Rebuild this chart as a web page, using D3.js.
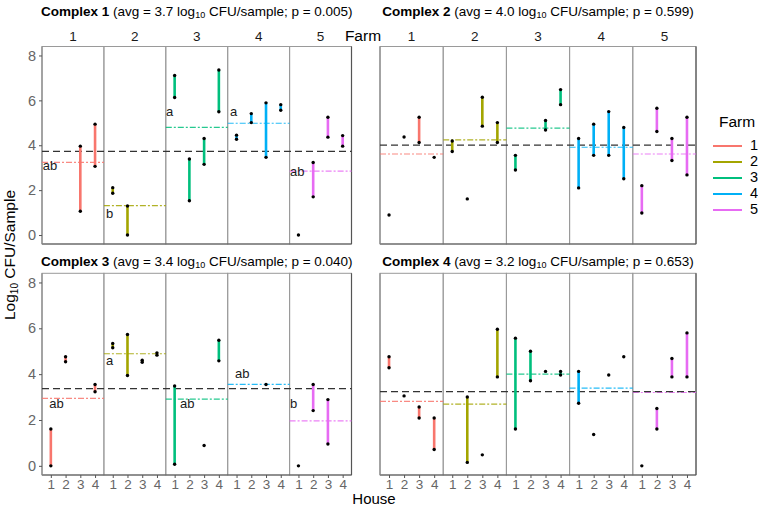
<!DOCTYPE html>
<html><head><meta charset="utf-8">
<script src="https://cdn.jsdelivr.net/npm/d3@7"></script>
<style>body{margin:0;background:#fff}svg{display:block;font-family:"Liberation Sans",Arial,sans-serif}</style>
</head><body><svg id="c" width="758" height="507"></svg>
<script>
const farms = [1,2,3,4,5];
const houses = [1,2,3,4];
const farmColors = ["#F8766D","#A3A500","#00BF7D","#00B0F6","#E76BF3"];
const yTicks = [0,2,4,6,8];
const complexNames = ["Complex 1","Complex 2","Complex 3","Complex 4"];
const complexAvg = ["3.7","4.0","3.4","3.2"];
const complexP = ["0.005","0.599","0.040","0.653"];
// [farm, house, low, high]
const complex1 = [[1,3,1.06,3.96],[1,4,3.06,4.94],[2,1,1.86,2.11],[2,2,0,1.29],
 [3,1,6.13,7.11],[3,2,1.53,3.39],[3,3,3.15,4.30],[3,4,5.49,7.35],
 [4,1,4.27,4.45],[4,2,5.01,5.41],[4,3,3.46,5.89],[4,4,5.56,5.81],
 [5,1,0,0],[5,2,1.70,3.23],[5,3,4.36,5.25],[5,4,3.96,4.43]];
const complex2 = [[1,1,0.89,0.89],[1,2,4.37,4.37],[1,3,4.12,5.25],[1,4,3.46,3.46],
 [2,1,3.72,4.19],[2,2,1.61,1.61],[2,3,4.85,6.14],[2,4,4.12,5.01],
 [3,1,2.90,3.55],[3,3,4.68,5.10],[3,4,5.81,6.48],
 [4,1,2.10,4.30],[4,2,3.55,4.94],[4,3,3.55,5.50],[4,4,2.51,4.79],
 [5,1,0.98,2.20],[5,2,4.61,5.65],[5,3,3.32,4.30],[5,4,2.68,5.25]];
const complex3 = [[1,1,0,1.61],[1,2,4.54,4.76],[1,4,3.23,3.55],
 [2,1,5.15,5.34],[2,2,3.94,5.73],[2,3,4.52,4.61],[2,4,4.83,4.93],
 [3,1,0.07,3.48],[3,3,0.89,0.89],[3,4,4.58,5.48],
 [4,3,3.55,3.55],
 [5,1,0,0],[5,2,2.41,3.55],[5,3,0.95,2.89]];
const complex4 = [[1,1,4.28,4.76],[1,2,3.05,3.05],[1,3,2.09,2.57],[1,4,0.71,2.09],
 [2,2,0.15,3.0],[2,3,0.48,0.48],[2,4,3.88,5.96],
 [3,1,1.61,5.57],[3,2,3.71,5.0],[3,3,4.12,4.12],[3,4,3.96,4.12],
 [4,1,2.73,4.12],[4,2,1.37,1.37],[4,3,3.96,3.96],[4,4,4.76,4.76],
 [5,1,0,0],[5,2,1.61,2.50],[5,3,3.88,4.68],[5,4,3.88,5.80]];
const farmMeans1 = [3.24,1.31,4.80,4.98,2.85];
const farmMeans2 = [3.61,4.24,4.76,3.91,3.61];
const farmMeans3 = [2.94,4.89,2.91,3.55,1.96];
const farmMeans4 = [2.81,2.69,4.00,3.39,3.20];
const overallMeans = [3.73,4.01,3.37,3.24];
// [farm, house position, value, text]
const letters1 = [[1,0.45,3.07,"ab"],[2,0.54,0.89,"b"],[3,0.41,5.44,"a"],[4,0.56,5.44,"a"],[5,0.43,2.79,"ab"]];
const letters3 = [[1,0.9,2.66,"ab"],[2,0.54,4.55,"a"],[3,1.36,2.66,"ab"],[4,0.9,4.0,"ab"],[5,0.43,2.66,"b"]];

const panels = [
 {data:complex1, means:farmMeans1, letters:letters1, x0:42, x1:351.5, y0:46.5, y1:244, title:12, yaxis:true, xaxis:false, strip:true},
 {data:complex2, means:farmMeans2, letters:[], x0:380, x1:696, y0:46.5, y1:244, title:12, yaxis:false, xaxis:false, strip:true},
 {data:complex3, means:farmMeans3, letters:letters3, x0:42, x1:351.5, y0:273.3, y1:475, title:261.5, yaxis:true, xaxis:true, strip:false},
 {data:complex4, means:farmMeans4, letters:[], x0:380, x1:696, y0:273.3, y1:475, title:261.5, yaxis:false, xaxis:true, strip:false}
];

const svg = d3.select("#c");
const color = d3.scaleOrdinal().domain(farms).range(farmColors);

panels.forEach((p,i)=>{
  const g = svg.append("g");
  const y = d3.scaleLinear().domain([-0.4,8.4]).range([p.y1,p.y0]);
  const fx = d3.scaleBand().domain(farms).range([p.x0,p.x1]).padding(0);
  const hx = f => d3.scaleLinear().domain([0.4,4.6]).range([fx(f), fx(f)+fx.bandwidth()]);

  // title
  const t = g.append("text").attr("x",(p.x0+p.x1)/2).attr("y",p.title).attr("text-anchor","middle")
    .attr("dominant-baseline","middle").attr("font-size",13.5).attr("fill","#000");
  t.append("tspan").attr("font-weight","bold").text(complexNames[i]);
  t.append("tspan").text(" (avg = "+complexAvg[i]+" log");
  t.append("tspan").attr("font-size",9).attr("dy",4).text("10");
  t.append("tspan").attr("dy",-4).text(" CFU/sample; p = "+complexP[i]+")");

  // farm frames
  farms.forEach(f=>{
    g.append("rect").attr("x",fx(f)).attr("y",p.y0).attr("width",fx.bandwidth()).attr("height",p.y1-p.y0)
      .attr("fill","none").attr("stroke","#9a9a9a").attr("stroke-width",1);
  });
  g.append("line").attr("x1",p.x0).attr("x2",p.x1).attr("y1",p.y1).attr("y2",p.y1).attr("stroke","#555").attr("stroke-width",1.2);
  g.append("line").attr("x1",p.x1).attr("x2",p.x1).attr("y1",p.y0).attr("y2",p.y1).attr("stroke","#555").attr("stroke-width",1.2);
  g.append("line").attr("x1",p.x0).attr("x2",p.x0).attr("y1",p.y0).attr("y2",p.y1).attr("stroke","#888").attr("stroke-width",1.2);

  // strip labels
  if(p.strip){
    farms.forEach(f=>{
      g.append("text").attr("x",fx(f)+fx.bandwidth()/2).attr("y",37).attr("text-anchor","middle")
        .attr("dominant-baseline","middle").attr("font-size",13.5).attr("fill","#1a1a1a").text(f);
    });
  }

  // y axis
  if(p.yaxis){
    const ya = g.append("g").attr("transform",`translate(${p.x0},0)`)
      .call(d3.axisLeft(y).tickValues(yTicks).tickFormat(d3.format("d")).tickSize(3).tickPadding(3));
    ya.select(".domain").remove();
    ya.selectAll("line").attr("stroke","#555");
    ya.selectAll("text").attr("font-size",14.5).attr("fill","#666").attr("font-family","Liberation Sans, Arial, sans-serif");
  }
  // x axis
  if(p.xaxis){
    farms.forEach(f=>{
      const xa = g.append("g").attr("transform",`translate(0,${p.y1})`)
        .call(d3.axisBottom(hx(f)).tickValues(houses).tickFormat(d3.format("d")).tickSize(3).tickPadding(1));
      xa.select(".domain").remove();
      xa.selectAll("line").attr("stroke","#555");
      xa.selectAll("text").attr("font-size",13.5).attr("fill","#666").attr("font-family","Liberation Sans, Arial, sans-serif");
    });
  }

  // farm mean lines
  farms.forEach((f,k)=>{
    g.append("line").attr("x1",fx(f)).attr("x2",fx(f)+fx.bandwidth())
      .attr("y1",y(p.means[k])).attr("y2",y(p.means[k]))
      .attr("stroke",color(f)).attr("stroke-opacity",0.85).attr("stroke-width",1.2).attr("stroke-dasharray","6,2,2,2");
  });
  // overall mean
  g.append("line").attr("x1",p.x0).attr("x2",p.x1).attr("y1",y(overallMeans[i])).attr("y2",y(overallMeans[i]))
    .attr("stroke","#333").attr("stroke-width",1.3).attr("stroke-dasharray","7,4");

  // range segments
  g.selectAll(".seg").data(p.data).enter().append("line")
    .attr("x1",d=>hx(d[0])(d[1])).attr("x2",d=>hx(d[0])(d[1]))
    .attr("y1",d=>y(d[2])).attr("y2",d=>y(d[3]))
    .attr("stroke",d=>color(d[0])).attr("stroke-width",2.6);
  // points
  const pts = [];
  p.data.forEach(d=>{ pts.push([d[0],d[1],d[2]]); if(d[3]!==d[2]) pts.push([d[0],d[1],d[3]]); });
  g.selectAll(".pt").data(pts).enter().append("circle")
    .attr("cx",d=>hx(d[0])(d[1])).attr("cy",d=>y(d[2])).attr("r",1.7).attr("fill","#000");

  // letters
  p.letters.forEach(l=>{
    g.append("text").attr("x",hx(l[0])(l[1])).attr("y",y(l[2])).attr("dominant-baseline","middle")
      .attr("font-size",13).attr("fill","#1a1a1a").text(l[3]);
  });
});

// Farm facet label
svg.append("text").attr("x",363).attr("y",37).attr("text-anchor","middle").attr("dominant-baseline","middle")
  .attr("font-size",15.5).attr("fill","#000").text("Farm");

// axis titles
const yl = svg.append("text").attr("transform","translate(11,255) rotate(-90)").attr("text-anchor","middle")
  .attr("dominant-baseline","middle").attr("font-size",15.5).attr("fill","#000");
yl.append("tspan").text("Log");
yl.append("tspan").attr("font-size",10).attr("dy",4).text("10");
yl.append("tspan").attr("dy",-4).text(" CFU/Sample");
svg.append("text").attr("x",374).attr("y",500.5).attr("text-anchor","middle").attr("dominant-baseline","middle")
  .attr("font-size",15).attr("fill","#000").text("House");

// legend
const lg = svg.append("g");
lg.append("text").attr("x",719).attr("y",123).attr("dominant-baseline","middle").attr("font-size",15.5).attr("fill","#000").text("Farm");
const legY = d3.scalePoint().domain(farms).range([146,210]);
farms.forEach(f=>{
  lg.append("line").attr("x1",713).attr("x2",742).attr("y1",legY(f)).attr("y2",legY(f))
    .attr("stroke",color(f)).attr("stroke-width",2);
  lg.append("text").attr("x",750).attr("y",legY(f)).attr("dominant-baseline","middle").attr("font-size",14.5).attr("fill","#000").text(f);
});
</script></body></html>
